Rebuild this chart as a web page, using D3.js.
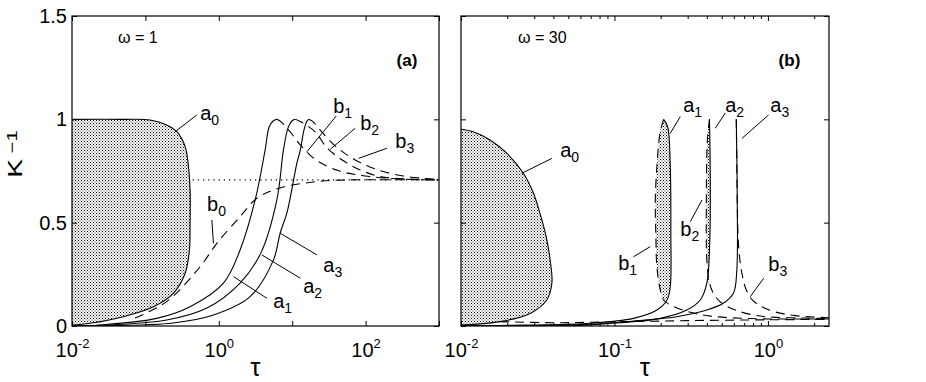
<!DOCTYPE html>
<html>
<head>
<meta charset="utf-8">
<script src="https://cdn.jsdelivr.net/npm/d3@7"></script>
<style>
html, body { margin: 0; padding: 0; background: #fff; }
svg { display: block; font-family: "Liberation Sans", Arial, Helvetica, sans-serif; }
</style>
</head>
<body>
<svg id="chart" width="926" height="382"></svg>
<script>
// ---- axis data ----
const yTicks = [0, 0.5, 1, 1.5];
const yTickLabels = ["0", "0.5", "1", "1.5"];
const xTicksA = [1e-2, 1e-1, 1e0, 1e1, 1e2, 1e3];
const xLabelExpA = [-2, 0, 2];
const xTicksB = [1e-2, 1e-1, 1e0];
const xLabelExpB = [-2, -1, 0];

// ---- panel (a), omega = 1 : [tau, 1/K] ----
const a0A = [[0.01,1.0],[0.05,1.0],[0.116,0.997],[0.195,0.973],[0.268,0.94],[0.348,0.868],[0.386,0.771],
  [0.406,0.658],[0.408,0.55],[0.406,0.497],[0.398,0.368],[0.348,0.255],[0.24,0.158],[0.1285,0.093],
  [0.05,0.045],[0.0176,0.013],[0.01,0.004]];
const a1A = [[0.01,0],[0.024,0.005],[0.143,0.037],[0.406,0.093],[1.156,0.207],[1.95,0.368],[3.13,0.61],
  [4.28,0.852],[4.86,0.964],[5.5,0.992],[6.2,1.0]];
const a2A = [[0.01,0],[0.024,0.003],[0.195,0.029],[0.687,0.087],[1.95,0.208],[3.76,0.355],[6.18,0.61],
  [7.6,0.852],[8.8,0.96],[9.9,0.992],[11.0,1.0]];
const a3A = [[0.01,0],[0.024,0.001],[0.238,0.0145],[0.845,0.053],[2.67,0.142],[5.56,0.32],[6.86,0.45],
  [8.47,0.547],[11.6,0.789],[12.9,0.852],[14.5,0.95],[15.8,0.99],[16.7,1.0]];
const b0A = [[0.0723,0.039],[0.195,0.118],[0.556,0.287],[0.94,0.40],[1.95,0.529],[3.3,0.618],[6.5,0.666],
  [20.6,0.698],[47.6,0.706],[1000,0.707]];
const b1A = [[6.2,1.0],[7.2,0.985],[9.4,0.939],[12.9,0.876],[21.2,0.803],[42.4,0.752],[99,0.726],
  [297,0.711],[1000,0.707]];
const b2A = [[11.0,1.0],[12.8,0.99],[15.5,0.973],[21.2,0.935],[29.1,0.866],[48.1,0.803],[84.6,0.755],
  [158,0.723],[406,0.711],[1000,0.707]];
const b3A = [[16.7,1.0],[19,0.99],[24.1,0.948],[38.6,0.871],[72.3,0.803],[135,0.76],[297,0.728],
  [651,0.714],[1000,0.709]];
const asymA = [[0.44, Math.SQRT1_2],[1000, Math.SQRT1_2]];

// ---- panel (b), omega = 30 ----
const a0B = [[0.01,0.952],[0.012,0.94],[0.01546,0.9],[0.01987,0.836],[0.0255,0.739],[0.02966,0.642],
  [0.0327,0.545],[0.0359,0.432],[0.0381,0.319],[0.0391,0.207],[0.0362,0.126],[0.0282,0.061],
  [0.01795,0.021],[0.01,0.005]];
const a1B = [[0.01,0],[0.0282,0.005],[0.0693,0.013],[0.133,0.037],[0.189,0.077],[0.22,0.126],[0.231,0.19],
  [0.233,0.449],[0.231,0.771],[0.222,0.964],[0.209,1.0]];
const b1B = [[0.209,1.0],[0.198,0.934],[0.189,0.771],[0.1845,0.61],[0.186,0.45],[0.189,0.287],[0.199,0.174],
  [0.209,0.126],[0.231,0.102],[0.289,0.073],[0.421,0.048],[0.767,0.036],[2.5,0.034]];
const a2B = [[0.01,0],[0.0443,0.005],[0.109,0.016],[0.199,0.037],[0.296,0.077],[0.362,0.126],[0.4,0.208],
  [0.418,0.416],[0.421,0.706],[0.416,1.0]];
const b2B = [[0.416,1.0],[0.403,0.9],[0.397,0.61],[0.4,0.319],[0.415,0.213],[0.44,0.16],[0.49,0.116],
  [0.613,0.077],[0.891,0.048],[1.4,0.04],[2.5,0.036]];
const a3B = [[0.01,0],[0.0597,0.003],[0.12,0.021],[0.255,0.045],[0.4,0.077],[0.514,0.111],[0.597,0.16],
  [0.627,0.271],[0.631,0.61],[0.622,1.0]];
const b3B = [[0.622,1.0],[0.629,0.706],[0.637,0.465],[0.651,0.344],[0.68,0.247],[0.723,0.174],[0.791,0.126],
  [0.919,0.092],[1.116,0.068],[1.507,0.05],[2.5,0.04]];
const b0B = [[0.018,0.021],[0.04,0.016],[0.1,0.02],[0.3,0.026],[1,0.03],[2.5,0.032]];

// ---- annotations (data coords): text start, leader from -> to ----
const notesA = [
  { t: 0.557, v: 0.997, s: "a", sub: "0", lead: [[0.502,1.021],[0.254,0.94]] },
  { t: 0.693, v: 0.556, s: "b", sub: "0", lead: [[0.804,0.513],[0.845,0.40]] },
  { t: 36.2, v: 1.031, s: "b", sub: "1", lead: [[39.8,1.016],[15.85,0.843]] },
  { t: 84.5, v: 0.948, s: "b", sub: "2", lead: [[72.3,0.957],[33,0.855]] },
  { t: 254, v: 0.861, s: "b", sub: "3", lead: [[195,0.86],[80.2,0.811]] },
  { t: 5.5, v: 0.087, s: "a", sub: "1", lead: [[4.52,0.134],[1.585,0.239]] },
  { t: 14.1, v: 0.16, s: "a", sub: "2", lead: [[12.9,0.231],[3.86,0.344]] },
  { t: 26.5, v: 0.261, s: "a", sub: "3", lead: [[21.7,0.344],[6.86,0.449]] }
];
const notesB = [
  { t: 0.0443, v: 0.818, s: "a", sub: "0", lead: [[0.0391,0.811],[0.0249,0.739]] },
  { t: 0.2805, v: 1.035, s: "a", sub: "1", lead: [[0.2685,1.013],[0.2307,0.932]] },
  { t: 0.527, v: 1.035, s: "a", sub: "2", lead: [[0.527,1.031],[0.454,0.957]] },
  { t: 1.037, v: 1.035, s: "a", sub: "3", lead: [[1.01,1.021],[0.678,0.908]] },
  { t: 0.1057, v: 0.271, s: "b", sub: "1", lead: [[0.133,0.335],[0.171,0.384]] },
  { t: 0.2686, v: 0.435, s: "b", sub: "2", lead: [[0.312,0.505],[0.372,0.61]] },
  { t: 1.006, v: 0.265, s: "b", sub: "3", lead: [[0.938,0.231],[0.767,0.142]] }
];

const svg = d3.select("#chart");
const y = d3.scaleLinear().domain([0, 1.5]).range([326, 16]);

const defs = svg.append("defs");
const pat = defs.append("pattern").attr("id", "dots")
  .attr("patternUnits", "userSpaceOnUse").attr("width", 3).attr("height", 3);
pat.append("rect").attr("width", 1).attr("height", 1).attr("fill", "#000");
pat.append("rect").attr("x", 1.5).attr("y", 1.5).attr("width", 1).attr("height", 1).attr("fill", "#222");

const panels = [
  {
    key: "a", x: d3.scaleLog().domain([1e-2, 1e3]).range([72, 439]),
    ticks: xTicksA, labelExp: xLabelExpA, minor: false, yLabels: true,
    fills: [a0A],
    solid: [a0A, a1A, a2A, a3A],
    dashed: [b0A, b1A, b2A, b3A],
    dotted: [asymA],
    notes: notesA, omega: { t: 0.0424, text: "\u03c9 = 1" }, tag: { t: 507, text: "(a)" }
  },
  {
    key: "b", x: d3.scaleLog().domain([1e-2, 2.5]).range([461, 829]),
    ticks: xTicksB, labelExp: xLabelExpB, minor: true, yLabels: false,
    fills: [a0B,
      a1B.filter(d => d[1] >= 0.12).concat(b1B.filter(d => d[1] >= 0.12).slice(1)),
      a2B.filter(d => d[1] >= 0.2).concat(b2B.filter(d => d[1] >= 0.2).slice(1))],
    solid: [a0B, a1B, a2B, a3B],
    dashed: [b0B, b1B, b2B, b3B],
    dotted: [],
    notes: notesB, omega: { t: 0.02355, text: "\u03c9 = 30" }, tag: { t: 1.626, text: "(b)" }
  }
];

panels.forEach(p => {
  const [x0, x1] = p.x.range();
  const g = svg.append("g");
  defs.append("clipPath").attr("id", "clip-" + p.key)
    .append("rect").attr("x", x0).attr("y", y(1.5)).attr("width", x1 - x0).attr("height", y(0) - y(1.5));
  const plot = g.append("g").attr("clip-path", `url(#clip-${p.key})`);
  const line = d3.line().x(d => p.x(d[0])).y(d => y(d[1])).curve(d3.curveCatmullRom.alpha(0.5));

  p.fills.forEach(f => {
    plot.append("path").attr("d", line(f) + "Z").attr("fill", "url(#dots)").attr("stroke", "none");
  });
  p.dotted.forEach(c => {
    plot.append("path").attr("d", line(c)).attr("fill", "none").attr("stroke", "#000")
      .attr("stroke-width", 1.2).attr("stroke-dasharray", "1.2,4");
  });
  p.dashed.forEach(c => {
    plot.append("path").attr("d", line(c)).attr("fill", "none").attr("stroke", "#000")
      .attr("stroke-width", 1.1).attr("stroke-dasharray", "9,6");
  });
  p.solid.forEach(c => {
    plot.append("path").attr("d", line(c)).attr("fill", "none").attr("stroke", "#000")
      .attr("stroke-width", 1.1);
  });

  // axes: ticks point inwards on all four sides
  const bottom = g.append("g").attr("transform", `translate(0,${y(0)})`)
    .call(d3.axisBottom(p.x).tickValues(p.ticks).tickSize(-5).tickFormat(() => ""));
  bottom.selectAll(".tick text").each(function (d) {
    const e = Math.round(Math.log10(d));
    if (!p.labelExp.includes(e)) return;
    const t = d3.select(this).attr("y", 31).attr("dy", null)
      .attr("font-size", 20).attr("font-family", "Liberation Sans, Arial, sans-serif");
    t.append("tspan").text("10");
    t.append("tspan").attr("dy", -9).attr("font-size", 13).text(e < 0 ? "-" + (-e) : String(e));
  });
  g.append("g").attr("transform", `translate(0,${y(1.5)})`)
    .call(d3.axisTop(p.x).tickValues(p.ticks).tickSize(-5).tickFormat(() => ""));
  if (p.minor) {
    const minor = p.x.ticks().filter(v => !p.ticks.some(m => Math.abs(m - v) / m < 1e-6));
    g.append("g").attr("transform", `translate(0,${y(0)})`)
      .call(d3.axisBottom(p.x).tickValues(minor).tickSize(-3).tickFormat(() => ""));
    g.append("g").attr("transform", `translate(0,${y(1.5)})`)
      .call(d3.axisTop(p.x).tickValues(minor).tickSize(-3).tickFormat(() => ""));
  }
  const left = g.append("g").attr("transform", `translate(${x0},0)`)
    .call(d3.axisLeft(y).tickValues(yTicks).tickSize(-5)
      .tickFormat((d, i) => p.yLabels ? yTickLabels[i] : ""));
  left.selectAll(".tick text").attr("x", -5).attr("font-size", 20)
    .attr("font-family", "Liberation Sans, Arial, sans-serif");
  g.append("g").attr("transform", `translate(${x1},0)`)
    .call(d3.axisRight(y).tickValues(yTicks).tickSize(-5).tickFormat(() => ""));
  g.selectAll(".domain").remove();
  g.append("rect").attr("x", x0).attr("y", y(1.5)).attr("width", x1 - x0).attr("height", y(0) - y(1.5))
    .attr("fill", "none").attr("stroke", "#000").attr("stroke-width", 1.2);

  // curve labels with leaders
  p.notes.forEach(n => {
    g.append("line").attr("x1", p.x(n.lead[0][0])).attr("y1", y(n.lead[0][1]))
      .attr("x2", p.x(n.lead[1][0])).attr("y2", y(n.lead[1][1]))
      .attr("stroke", "#000").attr("stroke-width", 1);
    const t = g.append("text").attr("x", p.x(n.t)).attr("y", y(n.v)).attr("font-size", 20);
    t.append("tspan").text(n.s);
    t.append("tspan").attr("dy", 5).attr("font-size", 14).text(n.sub);
  });

  g.append("text").attr("x", p.x(p.omega.t)).attr("y", y(1.369)).attr("font-size", 16).text(p.omega.text);
  g.append("text").attr("x", p.x(p.tag.t)).attr("y", y(1.258)).attr("text-anchor", "end")
    .attr("font-size", 17).attr("font-weight", "bold").text(p.tag.text);

  g.append("text").attr("x", (x0 + x1) / 2).attr("y", 376).attr("text-anchor", "middle")
    .attr("font-size", 26).text("\u03c4");
});

// y axis title (stretched along its reading direction like the original)
const yt = svg.append("text").attr("transform", "translate(22,154) rotate(-90) scale(1.35,1)")
  .attr("text-anchor", "middle").attr("font-size", 21);
yt.append("tspan").text("K");
yt.append("tspan").attr("dx", 4).attr("dy", -5).attr("font-size", 15).text("\u22121");
</script>
</body>
</html>
